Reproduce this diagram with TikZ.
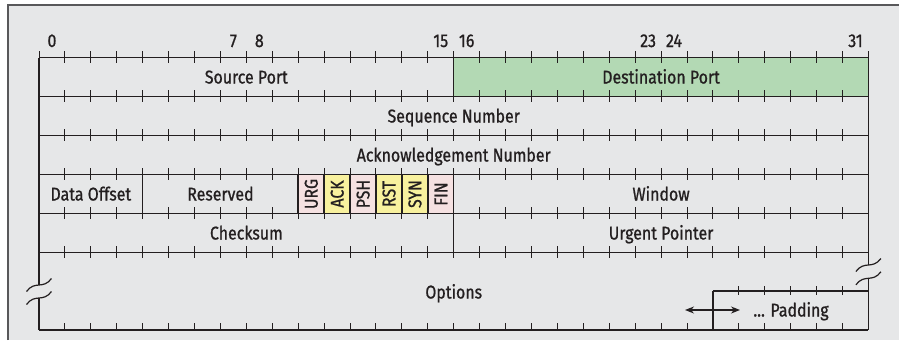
\documentclass[tikz,border=0pt]{standalone}
\usepackage{fontspec}
\setmainfont{Fira Sans}[FakeStretch=0.86,FakeBold=0.9]
\usetikzlibrary{arrows.meta}
\definecolor{bg}{HTML}{E6E7E8}
\definecolor{ink}{HTML}{231F20}
\definecolor{framec}{HTML}{58585A}
\definecolor{grn}{HTML}{B3D9B4}
\definecolor{pk}{HTML}{F5E1E1}
\definecolor{yl}{HTML}{F8F19E}
\begin{document}
\begin{tikzpicture}[x=1pt,y=-1pt,
  lbl/.style={font=\fontsize{18.5}{18.5}\selectfont, text=ink, inner sep=0pt, text height=13pt, text depth=0pt},
  flag/.style={lbl, rotate=90},
  main/.style={line width=1.5pt, draw=ink},
  tickl/.style={line width=1pt, draw=ink},
  wave/.style={line width=1.2pt, draw=ink}]
\useasboundingbox (0,0) rectangle (899,340);
\fill[bg] (8,5) rectangle (899,340);
\draw[framec, line width=1.2pt] (8,340) -- (8,5) -- (899,5);
\def\bw{25.92}
% fills
\fill[grn] ({39+16*\bw},57.5) rectangle ({39+32*\bw},96.5);
\foreach \b/\c in {10/pk,11/yl,12/pk,13/yl,14/yl,15/pk}
  \fill[\c] ({39+\b*\bw},174.5) rectangle ({39+(\b+1)*\bw},213.5);
% horizontal lines with ticks
\foreach \y in {57.5,96.5,135.5,174.5,213.5,252.5}{
  \draw[main] (39,\y) -- ({39+32*\bw},\y);
  \foreach \b in {0,...,32}
    \draw[tickl] ({39+\b*\bw},{\y-6.5}) -- ({39+\b*\bw},{\y+5});
}
\draw[main] (39,330) -- ({39+32*\bw},330);
\foreach \b in {1,...,31}
  \draw[tickl] ({39+\b*\bw},323) -- ({39+\b*\bw},330);
% padding box
\draw[main] ({39+26*\bw},291) -- ({39+32*\bw},291);
\draw[main] ({39+26*\bw},291) -- ({39+26*\bw},330);
\foreach \b in {27,...,31}
  \draw[tickl] ({39+\b*\bw},286) -- ({39+\b*\bw},295);
% verticals
\draw[main] (39,57.5) -- (39,285);
\draw[main] (39,298) -- (39,330);
\draw[main] ({39+32*\bw},57.5) -- ({39+32*\bw},265);
\draw[main] ({39+32*\bw},278) -- ({39+32*\bw},330);
\draw[main] ({39+16*\bw},57.5) -- ({39+16*\bw},96.5);
\foreach \b in {4,10,11,12,13,14,15,16}
  \draw[main] ({39+\b*\bw},174.5) -- ({39+\b*\bw},213.5);
\draw[main] ({39+16*\bw},213.5) -- ({39+16*\bw},252.5);
% break marks
\foreach \x/\y in {39/285,39/298,868.4/265,868.4/278.3}
  \draw[wave] ({\x-12.5},{\y+6.5}) .. controls ({\x-4},{\y-5}) and ({\x+4},{\y+5}) .. ({\x+12.5},{\y-6.5});
% bit numbers
\foreach \b in {0,7,8,15,16,23,24,31}
  \node[lbl] (n\b) at ({39+(\b+0.5)*\bw},40.5) {\b};
% field labels
\node[lbl] (src) at ({39+8*\bw},77) {Source Port};
\node[lbl] (dst) at ({39+24*\bw},77) {Destination Port};
\node[lbl] (seq) at ({39+16*\bw},116) {Sequence Number};
\node[lbl] (ack) at ({39+16*\bw},155) {Acknowledgement Number};
\node[lbl] (doff) at ({39+2*\bw},194) {Data Offset};
\node[lbl] (res) at ({39+7*\bw},194) {Reserved};
\foreach \b/\t in {10/URG,11/ACK,12/PSH,13/RST,14/SYN,15/FIN}
  \node[flag] (f\t) at ({39+(\b+0.5)*\bw},194) {\t};
\node[lbl] (win) at ({39+24*\bw},194) {Window};
\node[lbl] (chk) at ({39+8*\bw},233) {Checksum};
\node[lbl] (urg) at ({39+24*\bw},233) {Urgent Pointer};
\node[lbl] (opt) at ({39+16*\bw},292) {Options};
\node[lbl] (pad) at (791,310) {... Padding};
\coordinate (al) at (685,310);
\coordinate (ar) at (740,310);
\draw[line width=1.3pt, draw=ink, {Stealth[length=9pt,width=7pt]}-{Stealth[length=9pt,width=7pt]}] (al) -- (ar);
\end{tikzpicture}
\end{document}
